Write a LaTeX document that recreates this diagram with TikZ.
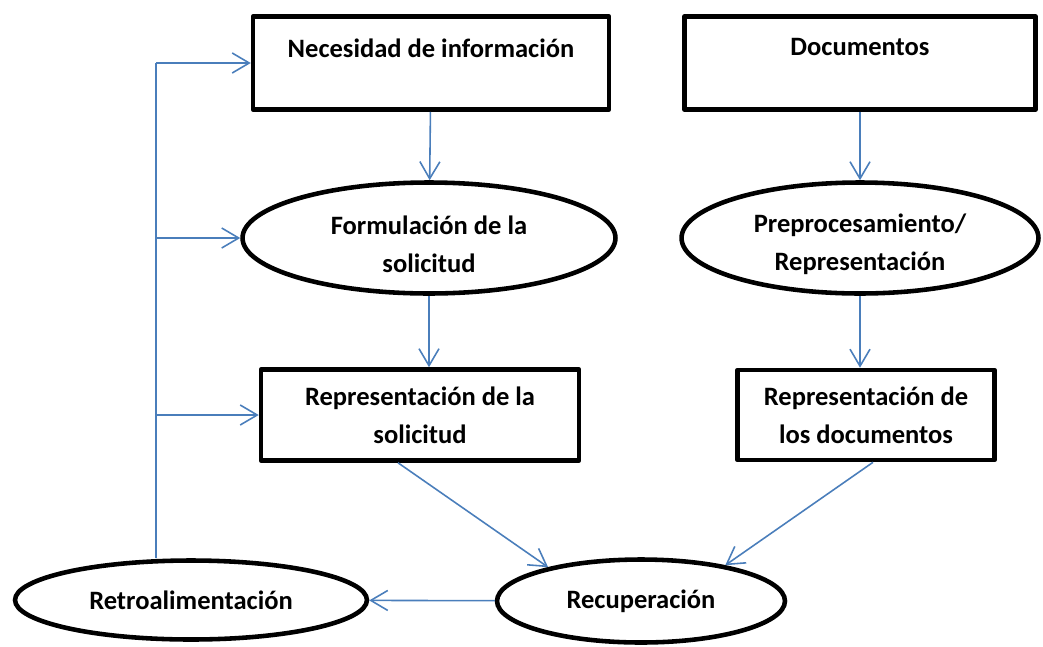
\documentclass[tikz,border=0pt]{standalone}
\usepackage{fontspec}
\setmainfont{Carlito}
\usetikzlibrary{shapes.geometric,arrows.meta}
\definecolor{flowblue}{HTML}{4A7EBB}
\begin{document}
\begin{tikzpicture}[x=0.02cm, y=-0.02cm, font=\fontsize{15.1}{21.6}\selectfont\bfseries]

        % Define custom styles for boxes, ellipses and arrows
        \tikzset{
          procbox/.style={rectangle, draw, line width=2.6pt, line join=round, inner sep=0pt},
          procell/.style={ellipse, draw, line width=2.6pt, inner sep=0pt, align=center},
          flowline/.style={draw=flowblue, line width=0.9pt},
          flow/.style={flowline, -{Straight Barb[length=3.4mm, width=4mm]}}
        }

        \useasboundingbox (0,0) rectangle (1043,646);

        % Query side (left column)
        \node[procbox, minimum width=7.12cm, text height=0.81cm, text depth=1.05cm] (need) at (431,63) {Necesidad de información};
        \node[procell, minimum width=7.46cm, minimum height=2.22cm] (form) at (429,238) {\rule{0pt}{0.62cm}Formulación de la\\solicitud};
        \node[procbox, align=center, minimum width=6.36cm, minimum height=1.82cm] (repsol) at (420,415) {Representación de la\\solicitud};

        % Document side (right column)
        \node[procbox, minimum width=7.02cm, text height=0.77cm, text depth=1.09cm] (doc) at (860,63) {Documentos};
        \node[procell, minimum width=7.14cm, minimum height=2.22cm] (pre) at (860,238) {\rule{0pt}{0.62cm}Preprocesamiento/\\Representación};
        \node[procbox, align=center, minimum width=5.14cm, minimum height=1.80cm] (repdoc) at (866,415) {Representación de\\los documentos};

        % Bottom row
        \node[procell, minimum width=5.76cm, minimum height=1.66cm] (rec) at (641,601) {Recuperación};
        \node[procell, minimum width=7.04cm, minimum height=1.58cm] (retro) at (191,600) {Retroalimentación};

        % Downward flow
        \draw[flow] (need) -- (form);
        \draw[flow] (form.south) -- (form.south |- repsol.north);
        \draw[flow] (doc) -- (pre);
        \draw[flow] (pre.south) -- (pre.south |- repdoc.north);
        \draw[flow] ([xshift=-0.44cm]repsol.south) -- (rec.160);
        \draw[flow] ([xshift=0.14cm]repdoc.south) -- (rec.23);
        \draw[flow] (rec) -- (retro);

        % Feedback loop back to the query side
        \coordinate (fbx) at (156,0);
        \draw[flowline] ([xshift=-0.7cm]retro.north) -- (fbx |- need.west);
        \draw[flow] (fbx |- need.west) -- (need.west);
        \draw[flow] (fbx |- form.west) -- (form.west);
        \draw[flow] (fbx |- repsol.west) -- (repsol.west);

\end{tikzpicture}
\end{document}
